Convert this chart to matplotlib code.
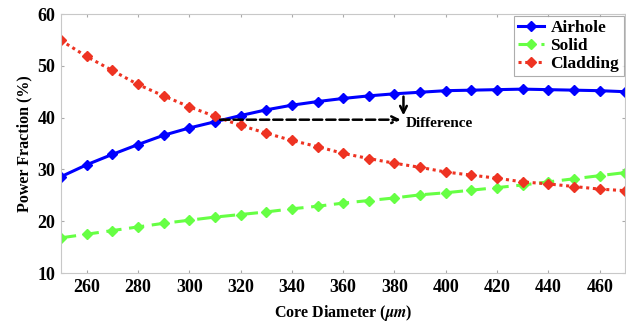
import matplotlib
matplotlib.use('Agg')
import matplotlib.pyplot as plt

# 数据
diameter = [250, 260, 270, 280, 290, 300, 310, 320, 330, 340, 350, 360,
            370, 380, 390, 400, 410, 420, 430, 440, 450, 460, 470]
airhole = [28.6, 30.9, 32.9, 34.8, 36.6, 38.0, 39.2, 40.4, 41.5, 42.4, 43.1, 43.7,
           44.2, 44.6, 44.9, 45.2, 45.3, 45.4, 45.5, 45.4, 45.3, 45.2, 45.0]
solid = [16.8, 17.5, 18.2, 18.9, 19.6, 20.2, 20.8, 21.3, 21.8, 22.4, 22.9, 23.5,
         24.0, 24.5, 25.1, 25.5, 26.0, 26.5, 27.0, 27.6, 28.2, 28.8, 29.4]
cladding = [54.9, 51.8, 49.1, 46.4, 44.2, 42.1, 40.25, 38.5, 37.0, 35.6, 34.4, 33.1,
            32.1, 31.2, 30.4, 29.5, 28.9, 28.3, 27.6, 27.2, 26.7, 26.2, 25.9]
x_ticks = [260, 280, 300, 320, 340, 360, 380, 400, 420, 440, 460]
y_ticks = [10, 20, 30, 40, 50, 60]

plt.rcParams['font.family'] = ['Liberation Serif', 'DejaVu Serif']
plt.rcParams['font.weight'] = 'bold'
plt.rcParams['mathtext.fontset'] = 'stix'

fig = plt.figure(figsize=(6.26, 3.22), dpi=100)
ax = fig.add_axes([0.0974, 0.152, 0.9016, 0.8045])

ax.plot(diameter, airhole, color='#0000ff', lw=2.2, marker='D', ms=5, label='Airhole')
ax.plot(diameter, solid, color='#66ff44', lw=2.2, ls=(0, (5, 2.5)), marker='D', ms=5, label='Solid')
ax.plot(diameter, cladding, color='#ee3322', lw=2.2, ls=(0, (1, 1.2)), marker='D', ms=5, label='Cladding')

# Difference 标注
ax.annotate('', xy=(383.5, 39.6), xytext=(311, 39.6),
            arrowprops=dict(arrowstyle='->', color='black', lw=1.8, ls='--', mutation_scale=12))
ax.annotate('', xy=(383.5, 39.9), xytext=(383.5, 44.6),
            arrowprops=dict(arrowstyle='->', color='black', lw=1.8, mutation_scale=12))
ax.text(384.5, 38.9, 'Difference', fontsize=11, fontweight='bold', va='center', ha='left')

ax.set_xlim(250, 470)
ax.set_ylim(10, 60)
ax.set_xticks(x_ticks)
ax.set_yticks(y_ticks)
ax.tick_params(direction='in', length=2, color='#aaaaaa', top=True, right=True, labelsize=13, pad=4)
for lab in ax.get_xticklabels() + ax.get_yticklabels():
    lab.set_fontweight('bold')
for s in ax.spines.values():
    s.set_color('#c8c8c8')

ax.set_xlabel(r'Core Diameter ($\mathbfit{\mu m}$)', fontsize=11.5, fontweight='bold', labelpad=5)
ax.set_ylabel('Power Fraction (%)', fontsize=11.5, fontweight='bold', labelpad=4)

leg = ax.legend(loc='upper right', prop={'weight': 'bold', 'size': 12.5},
                fancybox=False, borderaxespad=0.1, handlelength=1.5, labelspacing=0.1,
                handletextpad=0.35, borderpad=0.25)
leg.get_frame().set_edgecolor('#999999')
leg.get_frame().set_linewidth(0.8)

plt.savefig('out.png', dpi=100)
